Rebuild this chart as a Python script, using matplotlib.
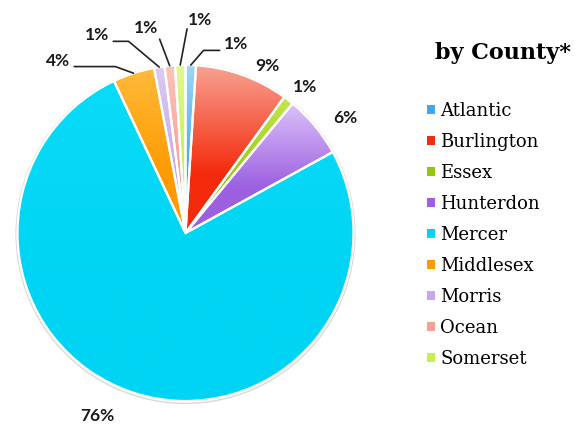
import numpy as np
import matplotlib
matplotlib.use("Agg")
import matplotlib.pyplot as plt
from matplotlib.patches import Patch, Circle
from matplotlib.colors import to_rgb

counties = ["Atlantic", "Burlington", "Essex", "Hunterdon", "Mercer",
            "Middlesex", "Morris", "Ocean", "Somerset"]
shares = [1, 9, 1, 6, 76, 4, 1, 1, 1]

base_colors = ["#3ea8f0", "#f42a0c", "#92c806", "#9c60e0", "#00d4f4",
               "#ff9a00", "#c4aaea", "#f8a096", "#c8f04a"]
light_colors = ["#9ed6fa", "#f8a292", "#c4e650", "#dcc2fa", "#08dcf8",
                "#ffba3a", "#dccaf2", "#fcc2ba", "#e0f892"]

# label layout in pie units (radius = 1), plus leader line style
label_pos = [(0.30, 1.125), (0.485, 0.994), (0.711, 0.869), (0.949, 0.685),
             (-0.527, -1.089), (-0.759, 1.024), (-0.527, 1.179),
             (-0.235, 1.220), (0.086, 1.268)]
leaders = [((0, 0.1), "angle,angleA=0,angleB=49,rad=0"),
           None, None, None, None,
           ((1, 0.15), "angle,angleA=0,angleB=-20,rad=0"),
           ((1, 0.1), "angle,angleA=0,angleB=-40,rad=0"),
           ((1, 0.05), "arc3,rad=0"),
           ((0, 0.2), "arc3,rad=0")]

fig = plt.figure(figsize=(5.88, 4.25), dpi=100)
ax = fig.add_axes([0, 0, 1, 1])

wedges, _ = ax.pie(shares, startangle=90, counterclock=False, radius=1,
                   center=(0, 0),
                   wedgeprops=dict(edgecolor="white", linewidth=1.6))

ax.add_patch(Circle((0, -0.006), 1.008, facecolor="none", edgecolor="#d8d8d8",
                    lw=1.0, zorder=0.5))

# vertical gradient inside every slice
t = np.clip(np.linspace(0, 1, 256) / 0.65, 0, 1)[:, None, None]
for w, c0, c1 in zip(wedges, light_colors, base_colors):
    ext = w.get_path().get_extents()
    rgb = (1 - t) * np.array(to_rgb(c0)) + t * np.array(to_rgb(c1))
    im = ax.imshow(rgb, extent=[ext.x0, ext.x1, ext.y0, ext.y1],
                   origin="upper", aspect="auto", zorder=1,
                   interpolation="bilinear")
    im.set_clip_path(w)
    w.set_facecolor("none")
    w.set_zorder(2)

lab_kw = dict(ha="center", va="center", fontsize=12.5, fontweight="bold",
              family="Lato", color="#1a1a1a")
for w, v, pos, ld in zip(wedges, shares, label_pos, leaders):
    if ld is None:
        ax.text(pos[0], pos[1], f"{v}%", **lab_kw)
        continue
    ang = np.deg2rad((w.theta1 + w.theta2) / 2)
    ax.annotate(f"{v}%", xy=(np.cos(ang), np.sin(ang)), xytext=pos,
                arrowprops=dict(arrowstyle="-", color="#222222", lw=1.2,
                                relpos=ld[0], connectionstyle=ld[1],
                                patchA=None, shrinkA=3, shrinkB=0),
                **lab_kw)

ax.set_xlim(-185.5 / 168, (588 - 185.5) / 168)
ax.set_ylim((233 - 425) / 168, 233 / 168)
ax.set_aspect("equal")
ax.axis("off")

fig.text(435 / 588, 1 - 53 / 425, "by County*", ha="left", va="center",
         fontsize=16, fontweight="bold", family="DejaVu Serif")

handles = [Patch(facecolor=c, edgecolor="none") for c in base_colors]
fig.legend(handles, counties, loc="upper left",
           bbox_to_anchor=(427 / 588, 1 - 102 / 425), frameon=False,
           prop=dict(family="DejaVu Serif", size=13),
           handlelength=0.42, handleheight=0.42, handletextpad=0.3,
           labelspacing=0.72, borderpad=0, borderaxespad=0)

fig.savefig("out.png", dpi=100)
